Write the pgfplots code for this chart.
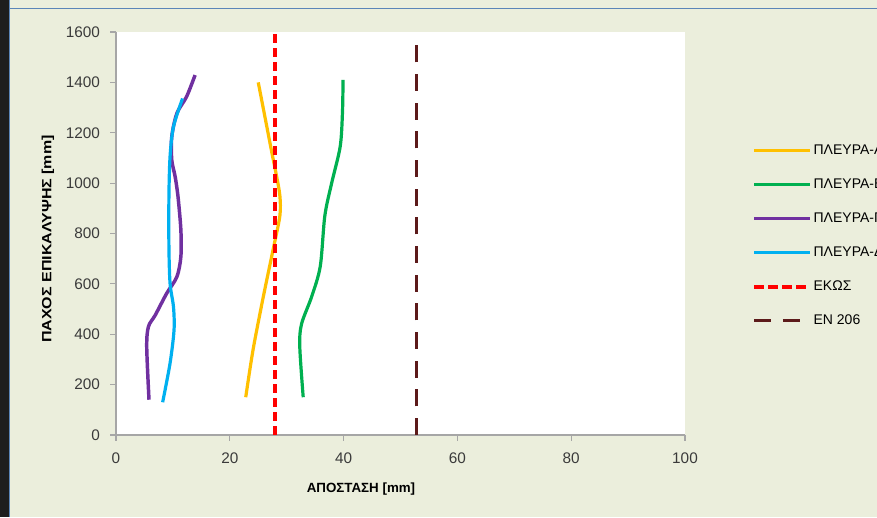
\documentclass[border=0pt]{standalone}
\usepackage{graphicx}
\usepackage{pgfplots}
\pgfplotsset{compat=1.18}
\usepackage{fontspec}
\setmainfont{Liberation Sans}
\definecolor{bg}{HTML}{EBEEDC}
\definecolor{darkstrip}{HTML}{1E1E1E}
\definecolor{blueline}{HTML}{5B85B8}
\definecolor{axisgray}{HTML}{A6A6A6}
\definecolor{ticktext}{HTML}{3A3A3A}
\definecolor{cOrange}{HTML}{FFC000}
\definecolor{cGreen}{HTML}{00B050}
\definecolor{cPurple}{HTML}{7030A0}
\definecolor{cBlue}{HTML}{00B0F0}
\definecolor{cRed}{HTML}{FF0000}
\definecolor{cBrown}{HTML}{5C1A1A}
\begin{document}
\begin{tikzpicture}[x=0.75pt,y=0.75pt]
\fill[bg] (0,0) rectangle (877,517);
\fill[darkstrip] (0,0) rectangle (9,517);
\draw[blueline, line width=1pt] (9.5,0) -- (9.5,517);
\draw[blueline, line width=1.2pt] (9.5,508.5) -- (877,508.5);
\begin{axis}[
  at={(87pt,61.5pt)}, anchor=south west, scale only axis,
  width=426.75pt, height=302.25pt,
  xmin=0, xmax=100, ymin=0, ymax=1600,
  xtick={0,20,...,100}, ytick={0,200,...,1600},
  axis x line*=bottom, axis y line*=left,
  axis line style={draw=axisgray, line width=1pt, -},
  tick style={draw=axisgray, line width=0.8pt},
  tick align=outside, major tick length=4.5pt,
  axis background/.style={fill=white},
  ticklabel style={font=\fontsize{11.5}{13}\selectfont, text=ticktext},
  yticklabel style={xshift=-4pt},
  xticklabel style={yshift=-5.5pt},
  /pgf/number format/assume math mode=true,
  /pgf/number format/1000 sep={},
  legend style={at={(1.1178,0.722)}, anchor=north west, draw=none, fill=none,
    inner sep=0pt, row sep=16pt, font=\fontsize{10.5}{12}\selectfont,
    nodes={inner sep=0pt, text height=7.5pt, text depth=2pt},
    /tikz/every odd column/.style={column sep=1pt}},
  legend cell align=left,
  legend image code/.code={\draw[#1] (0pt,0pt) -- (42pt,0pt);},
]
\addplot[cOrange, line width=2.4pt, smooth] coordinates {
 (22.8,150) (24.1,340) (25.9,550) (27.6,735) (28.8,870) (28.8,950) (28.2,1030) (27.4,1120) (26.2,1260) (25.0,1400)};
\addlegendentry{ΠΛΕΥΡΑ-Α}
\addplot[cGreen, line width=2.4pt, smooth] coordinates {
 (32.9,150) (32.3,350) (32.6,440) (34.4,550) (35.9,670) (36.7,870) (37.9,1000) (39.4,1145) (39.8,1280) (39.9,1410)};
\addlegendentry{ΠΛΕΥΡΑ-Β}
\addplot[cPurple, line width=2.6pt, smooth] coordinates {
 (5.8,140) (5.4,350) (5.7,430) (6.9,476) (8.9,562) (10.7,628) (11.4,708) (11.4,814) (10.9,946) (10.4,1025) (9.8,1092) (9.8,1184) (10.7,1277) (12.4,1343) (13.9,1429)};
\addlegendentry{ΠΛΕΥΡΑ-Γ}
\addplot[cBlue, line width=2.4pt, smooth] coordinates {
 (8.2,130) (9.5,285) (10.2,417) (10.1,509) (9.5,602) (9.3,748) (9.3,946) (9.5,1105) (10.1,1224) (11.7,1336)};
\addlegendentry{ΠΛΕΥΡΑ-Δ}
\addplot[cRed, line width=3pt, dash pattern=on 7pt off 3.5pt] coordinates {(28,0) (28,1600)};
\addlegendentry{ΕΚΩΣ}
\addplot[cBrown, line width=2.3pt, dash pattern=on 12.75pt off 8.75pt] coordinates {(52.8,0) (52.8,1555)};
\addlegendentry{EN 206}
\end{axis}
\node[font=\bfseries\fontsize{10}{12}\selectfont, text=black] at (361,28) {ΑΠΟΣΤΑΣΗ [mm]};
\node[rotate=90, font=\bfseries\fontsize{10}{12}\selectfont, text=black] at (48,278) {\scalebox{1.2}[1]{ΠΑΧΟΣ ΕΠΙΚΑΛΥΨΗΣ [mm]}};
\pgfresetboundingbox
\useasboundingbox (0,0) rectangle (877,517);
\end{tikzpicture}
\end{document}
